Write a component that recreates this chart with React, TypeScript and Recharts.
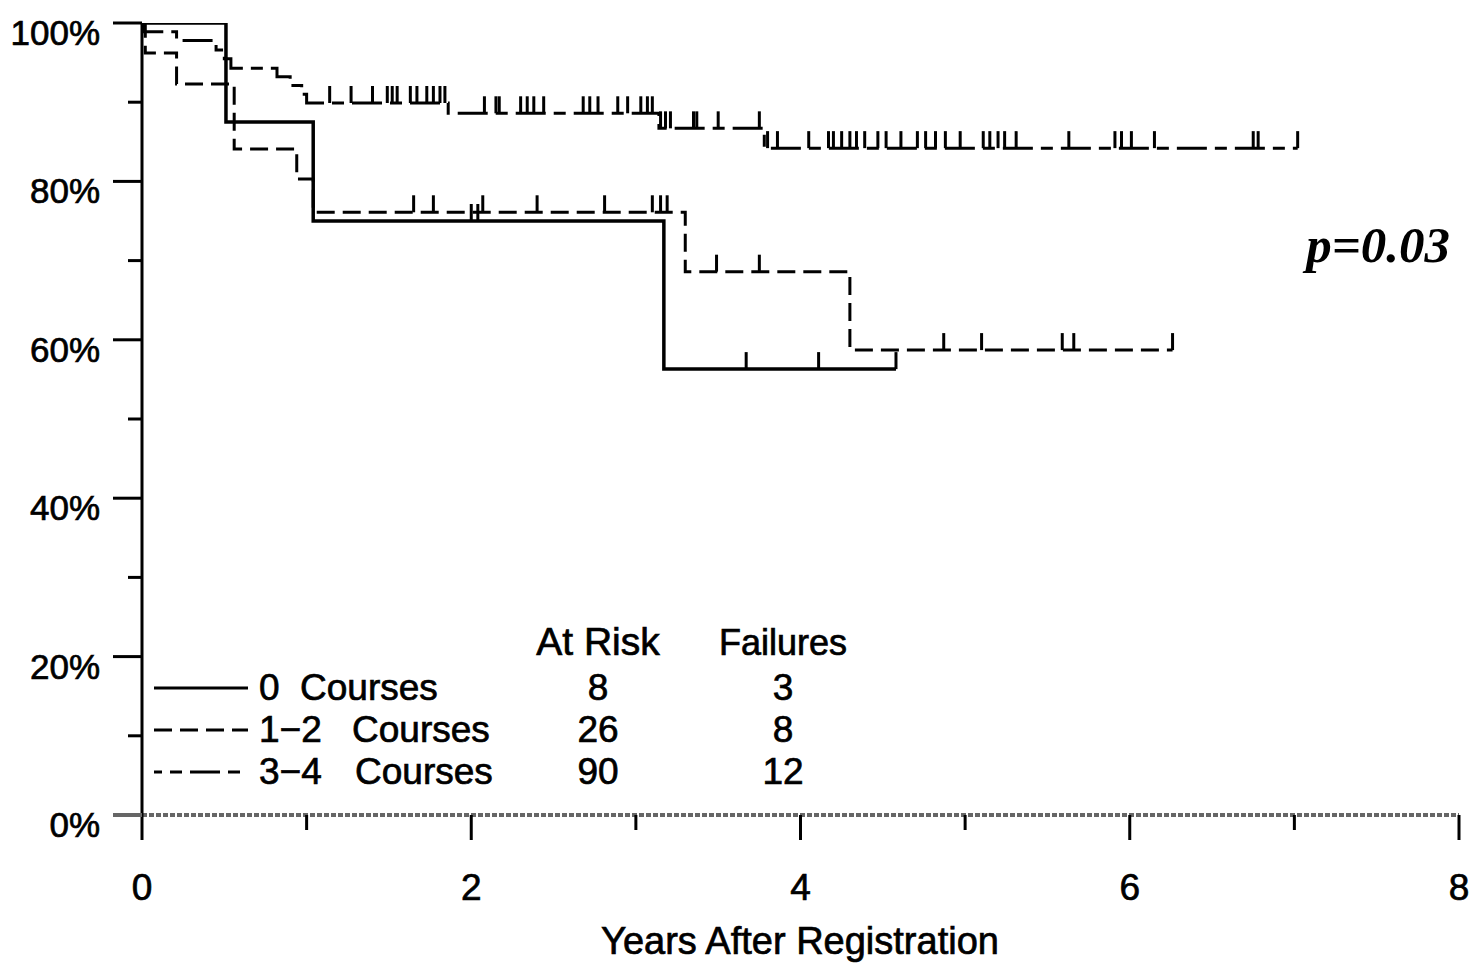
import React from 'react';
import { ComposedChart, Line, Scatter, XAxis, YAxis, Customized } from 'recharts';

// Kaplan–Meier estimates by number of courses (years after registration, % event-free)
const zeroTimes = [0, 0.51, 1.04, 3.17, 4.58];
const zeroSurv = [100, 87.5, 75.0, 56.3, 56.3];
const zeroCensor = [2.0, 2.04, 3.67, 4.11, 4.58];

const oneTwoTimes = [0, 0.02, 0.21, 0.56, 0.94, 1.04, 3.3, 4.3, 6.26];
const oneTwoSurv = [100, 96.2, 92.3, 84.1, 80.3, 76.1, 68.6, 58.7, 58.7];
const oneTwoCensor = [1.65, 1.77, 2.07, 2.4, 2.81, 3.1, 3.15, 3.19, 3.49, 3.75, 4.87, 5.1, 5.59, 5.66, 6.26];

const threeFourTimes = [0, 0.01, 0.21, 0.45, 0.5, 0.54, 0.82, 0.9, 0.97, 1.0, 1.86, 3.14, 3.78, 7.02];
const threeFourSurv = [100, 98.9, 97.8, 96.6, 95.5, 94.3, 93.2, 92.1, 91.0, 89.9, 88.6, 86.7, 84.2, 84.2];
const threeFourCensor = [
  1.14, 1.27, 1.4, 1.49, 1.52, 1.55, 1.63, 1.67, 1.73, 1.77, 1.81, 1.84,
  2.08, 2.15, 2.17, 2.3, 2.34, 2.38, 2.44, 2.68, 2.72, 2.77, 2.89, 2.95, 3.03, 3.07, 3.1,
  3.15, 3.18, 3.21, 3.35, 3.37, 3.5, 3.75,
  3.8, 3.86, 4.05, 4.17, 4.2, 4.25, 4.3, 4.34, 4.39, 4.47, 4.52, 4.61, 4.71, 4.76, 4.82, 4.88,
  4.97, 5.11, 5.15, 5.2, 5.24, 5.31, 5.63, 5.91, 5.95, 6.01, 6.15, 6.75, 6.78, 7.02,
];

// Legend / risk table
const groupLabels = ['0', '1\u22122', '3\u22124'];
const atRisk = [8, 26, 90];
const failures = [3, 8, 12];

const xTicks = [0, 1, 2, 3, 4, 5, 6, 7, 8];
const yTicks = [0, 10, 20, 30, 40, 50, 60, 70, 80, 90, 100];

const SANS = "'Liberation Sans', Arial, sans-serif";
const SERIF = "'Liberation Serif', 'Times New Roman', serif";

const DASH_ONE_TWO = '18 8';
const DASH_THREE_FOUR = '30 8 12 8';

const toSteps = (times: number[], surv: number[]) => times.map((t, i) => ({ t, s: surv[i] }));

const survAt = (times: number[], surv: number[], time: number) => {
  let v = surv[0];
  for (let i = 0; i < times.length; i++) {
    if (times[i] <= time) v = surv[i];
  }
  return v;
};

const toCensor = (times: number[], surv: number[], cens: number[]) =>
  cens.map((t) => ({ t, s: survAt(times, surv, t) }));

const zeroData = toSteps(zeroTimes, zeroSurv);
const oneTwoData = toSteps(oneTwoTimes, oneTwoSurv);
const threeFourData = toSteps(threeFourTimes, threeFourSurv);

const zeroMarks = toCensor(zeroTimes, zeroSurv, zeroCensor);
const oneTwoMarks = toCensor(oneTwoTimes, oneTwoSurv, oneTwoCensor);
const threeFourMarks = toCensor(threeFourTimes, threeFourSurv, threeFourCensor);

// heavier strokes on the sans-serif labels
const textInk = { fill: '#000', stroke: '#000', strokeWidth: 0.7 };

const CensorTick = (props: any) => {
  const { cx, cy } = props;
  if (cx == null || cy == null) return null;
  return <line x1={cx} x2={cx} y1={cy} y2={cy - 17} stroke="#000" strokeWidth={3} />;
};

const XTick = (props: any) => {
  const { x, y, payload } = props;
  const major = payload.value % 2 === 0;
  return (
    <g>
      <line x1={x} x2={x} y1={y} y2={y + (major ? 25 : 15)} stroke="#000" strokeWidth={3} />
      {major && (
        <text x={x} y={y + 85} textAnchor="middle" fontSize={37} fontFamily={SANS} {...textInk}>
          {payload.value}
        </text>
      )}
    </g>
  );
};

const YTick = (props: any) => {
  const { x, y, payload } = props;
  const major = payload.value % 20 === 0;
  const isZero = payload.value === 0;
  return (
    <g>
      <line
        x1={x - (major ? 29 : 14)}
        x2={x}
        y1={y}
        y2={y}
        stroke={isZero ? '#666' : '#000'}
        strokeWidth={isZero ? 4 : 3}
      />
      {major && (
        <text x={x - 42} y={y + 22} textAnchor="end" fontSize={35} fontFamily={SANS} {...textInk}>
          {payload.value}%
        </text>
      )}
    </g>
  );
};

const dashes = [undefined, DASH_ONE_TWO, DASH_THREE_FOUR];
const dashOffsets = [0, 0, 22];
const courseX = [292, 344, 347];

const Annotations = () => (
  <g fontFamily={SANS}>
    <text x={590} y={647} textAnchor="middle" fontSize={39} {...textInk}>At Risk</text>
    <text x={775} y={647} textAnchor="middle" fontSize={36} {...textInk}>Failures</text>
    {groupLabels.map((lab, i) => {
      const ly = 680 + i * 42;
      const by = 692 + i * 42;
      return (
        <g key={lab}>
          <line
            x1={146}
            x2={240}
            y1={ly}
            y2={ly}
            stroke="#000"
            strokeWidth={3}
            strokeDasharray={dashes[i]}
            strokeDashoffset={dashOffsets[i]}
          />
          <text x={251} y={by} fontSize={37} {...textInk}>{lab}</text>
          <text x={courseX[i]} y={by} fontSize={37} {...textInk}>Courses</text>
          <text x={590} y={by} textAnchor="middle" fontSize={37} {...textInk}>{atRisk[i]}</text>
          <text x={775} y={by} textAnchor="middle" fontSize={37} {...textInk}>{failures[i]}</text>
        </g>
      );
    })}
    <text x={792} y={946} textAnchor="middle" fontSize={38} {...textInk}>Years After Registration</text>
    <text
      x={1442}
      y={254}
      textAnchor="end"
      fontSize={51}
      fontFamily={SERIF}
      fontStyle="italic"
      fontWeight="bold"
      fill="#000"
    >
      p=0.03
    </text>
  </g>
);

export default function App() {
  return (
    <div style={{ width: 1465, height: 958, background: '#fff' }}>
      <ComposedChart
        width={1465}
        height={958}
        margin={{ top: 15, right: 14, bottom: 0, left: 0 }}
      >
        <XAxis
          dataKey="t"
          type="number"
          domain={[0, 8]}
          ticks={xTicks}
          interval={0}
          allowDataOverflow
          height={151}
          tickSize={0}
          tickMargin={0}
          tickLine={false}
          tick={<XTick />}
          axisLine={{ stroke: '#666', strokeWidth: 4, strokeDasharray: '5 2' }}
        />
        <YAxis
          dataKey="s"
          type="number"
          domain={[0, 100]}
          ticks={yTicks}
          interval={0}
          allowDataOverflow
          width={134}
          tickSize={0}
          tickMargin={0}
          tickLine={false}
          tick={<YTick />}
          axisLine={{ stroke: '#000', strokeWidth: 3 }}
        />
        <Line
          data={threeFourData}
          dataKey="s"
          type="stepAfter"
          stroke="#000"
          strokeWidth={3}
          strokeDasharray={DASH_THREE_FOUR}
          dot={false}
          activeDot={false}
          isAnimationActive={false}
        />
        <Line
          data={oneTwoData}
          dataKey="s"
          type="stepAfter"
          stroke="#000"
          strokeWidth={3}
          strokeDasharray={DASH_ONE_TWO}
          dot={false}
          activeDot={false}
          isAnimationActive={false}
        />
        <Line
          data={zeroData}
          dataKey="s"
          type="stepAfter"
          stroke="#000"
          strokeWidth={3.5}
          dot={false}
          activeDot={false}
          isAnimationActive={false}
        />
        <Scatter data={threeFourMarks} dataKey="s" shape={CensorTick} isAnimationActive={false} />
        <Scatter data={oneTwoMarks} dataKey="s" shape={CensorTick} isAnimationActive={false} />
        <Scatter data={zeroMarks} dataKey="s" shape={CensorTick} isAnimationActive={false} />
        <Customized component={Annotations} />
      </ComposedChart>
    </div>
  );
}
